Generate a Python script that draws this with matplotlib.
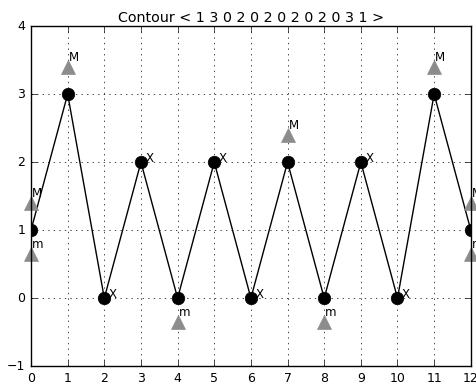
import matplotlib
matplotlib.use('Agg')
import matplotlib.pyplot as plt
import numpy as np

contour = [1, 3, 0, 2, 0, 2, 0, 2, 0, 2, 0, 3, 1]
max_pos = [0, 1, 7, 11, 12]   # local maxima -> 'M'
min_pos = [0, 4, 8, 12]       # local minima -> 'm'
x_pos = [2, 3, 5, 6, 9, 10]   # removed points -> 'X'

plt.style.use('classic')
fig = plt.figure(figsize=(4.77, 3.85), dpi=100, facecolor='white')
ax = fig.add_axes([0.065, 0.049, 0.922, 0.883])
ax.set_axisbelow(True)

xs = np.arange(len(contour))
ax.plot(xs, contour, 'k-', marker='o', markersize=9, color='black')

for i in max_pos:
    ax.plot(i, contour[i] + 0.4, '^', color='0.55', markeredgecolor='0.55', markersize=10, clip_on=False)
    ax.text(i + 0.03, contour[i] + 0.49, 'M', fontsize=8.5)
for i in min_pos:
    ax.plot(i, contour[i] - 0.35, '^', color='0.55', markeredgecolor='0.55', markersize=10, clip_on=False)
    ax.text(i + 0.03, contour[i] - 0.26, 'm', fontsize=8.5)
for i in x_pos:
    ax.text(i + 0.12, contour[i], 'X', fontsize=8.5)

ax.set_xlim(0, 12)
ax.set_ylim(-1, 4)
ax.set_xticks(range(13))
ax.set_yticks(range(-1, 5))
ax.tick_params(labelsize=9)
ax.grid(True, color='black', linestyle=':')
ax.set_title('Contour < ' + ' '.join(str(c) for c in contour) + ' >', fontsize=10.3, pad=3)

fig.savefig('out.png', dpi=100, facecolor='white')
